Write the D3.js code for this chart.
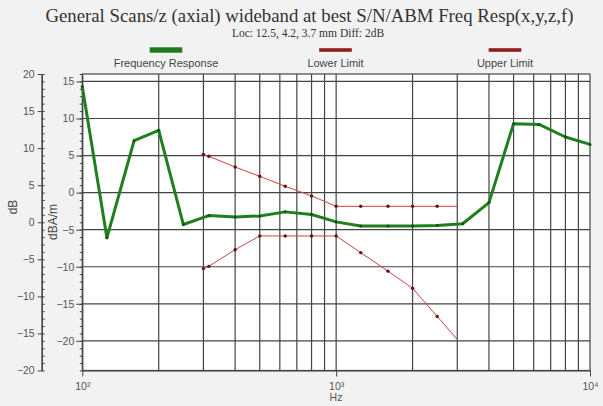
<!DOCTYPE html>
<html><head><meta charset="utf-8">
<script src="https://cdn.jsdelivr.net/npm/d3@7/dist/d3.min.js"></script>
<style>
html,body{margin:0;padding:0;background:#f2f2f2;}
svg{display:block;}
text{font-family:"Liberation Sans",Arial,sans-serif;}
</style></head>
<body>
<svg id="chart" width="603" height="406"></svg>
<script>
// ---- data ----
const freqs = [100,125,160,200,250,315,400,500,630,800,1000,1250,1600,2000,2500,3150,4000,5000,6300,8000,10000];
const response = [14.3,-6.1,7.0,8.4,-4.3,-3.1,-3.3,-3.15,-2.6,-2.95,-3.95,-4.5,-4.5,-4.5,-4.45,-4.2,-1.35,9.3,9.2,7.5,6.5];
const limitFreqs = [300,315,400,500,630,800,1000,1250,1600,2000,2500,3000];
const upperLimit = [5.15,4.9,3.45,2.2,0.85,-0.45,-1.85,-1.85,-1.85,-1.85,-1.85,-1.85];
const lowerLimit = [-10.25,-9.95,-7.7,-5.85,-5.85,-5.85,-5.85,-8.1,-10.6,-12.9,-16.7,-19.8];
const seriesNames = ["Frequency Response","Lower Limit","Upper Limit"];
const outerTicks = [20,15,10,5,0,-5,-10,-15,-20];
const innerTicks = [15,10,5,0,-5,-10,-15,-20];
const xTickVals = [100,1000,10000];
const xTickLabels = ["10\u00B2","10\u00B3","10\u2074"];
const title = "General Scans/z (axial) wideband at best S/N/ABM Freq Resp(x,y,z,f)";
const subtitle = "Loc: 12.5, 4.2, 3.7 mm Diff: 2dB";

// ---- layout ----
const L = 82.3, R = 590, T = 74, B = 370.5;
const svg = d3.select("#chart");
const x = d3.scaleLog().domain([100,10000]).range([L,R]);
const yIn = d3.scaleLinear().domain([-24,16]).range([B,T]);
const yOut = d3.scaleLinear().domain([-20,20]).range([B,T]);

svg.append("rect").attr("width",603).attr("height",406).attr("fill","#f2f2f2");
svg.append("rect").attr("x",L).attr("y",T).attr("width",R-L).attr("height",B-T).attr("fill","#ffffff");

// title
svg.append("text").attr("x",309.5).attr("y",21.5).attr("text-anchor","middle")
  .style("font-family","'Liberation Serif','Times New Roman',serif").style("font-size","18.8px").attr("fill","#333")
  .text(title);
svg.append("text").attr("x",308).attr("y",36.5).attr("text-anchor","middle")
  .style("font-family","'Liberation Serif','Times New Roman',serif").style("font-size","11.5px").attr("fill","#333")
  .text(subtitle);

// legend
const legColors = ["#1f7a1f","#8e1c1c","#8e1c1c"];
const legX = [166,335.5,505];
const legW = [5.4,3.6,3.6];
seriesNames.forEach((n,i)=>{
  svg.append("rect").attr("x",legX[i]-16.3).attr("y",50-legW[i]/2).attr("width",32.6).attr("height",legW[i]).attr("fill",legColors[i]);
  svg.append("text").attr("x",legX[i]).attr("y",67).attr("text-anchor","middle")
    .style("font-size","11px").attr("fill","#444").text(n);
});

// grid
const gridColor = "#444";
const g = svg.append("g");
g.selectAll("line.v").data(x.ticks().filter(d=>d>100 && d<10000)).join("line")
  .attr("x1",d=>x(d)).attr("x2",d=>x(d)).attr("y1",T).attr("y2",B)
  .attr("stroke",gridColor).attr("stroke-width",1.2);
g.selectAll("line.h").data(innerTicks).join("line")
  .attr("x1",L).attr("x2",R).attr("y1",d=>yIn(d)).attr("y2",d=>yIn(d))
  .attr("stroke",gridColor).attr("stroke-width",1.2);
svg.append("rect").attr("x",L).attr("y",T).attr("width",R-L).attr("height",B-T)
  .attr("fill","none").attr("stroke",gridColor).attr("stroke-width",1.2);

// axes
function styleAxis(sel){
  sel.select(".domain").attr("stroke","#444").attr("stroke-width",1.2);
  sel.selectAll(".tick line").attr("stroke","#444");
  sel.selectAll("text").style("font-size","10.5px").attr("fill","#555").style("font-family","'Liberation Sans',Arial,sans-serif");
}
const ax = 41.7;
// outer dB axis
const oMaj = svg.append("g").attr("transform",`translate(${ax},0)`)
  .call(d3.axisLeft(yOut).tickValues(outerTicks).tickSize(4).tickPadding(3).tickSizeOuter(0));
styleAxis(oMaj);
const oMin = svg.append("g").attr("transform",`translate(${ax},0)`)
  .call(d3.axisRight(yOut).tickValues(d3.range(-20,21,1)).tickSize(3).tickFormat("").tickSizeOuter(0));
styleAxis(oMin);
// inner dBA/m axis
const iMin = svg.append("g").attr("transform",`translate(${L},0)`)
  .call(d3.axisLeft(yIn).tickValues(d3.range(-24,17,1)).tickSize(2.5).tickFormat("").tickSizeOuter(0));
styleAxis(iMin);
const iMaj = svg.append("g").attr("transform",`translate(${L},0)`)
  .call(d3.axisLeft(yIn).tickValues(innerTicks).tickSize(6).tickPadding(2).tickSizeOuter(0));
styleAxis(iMaj);
iMaj.select(".domain").remove();
// x axis
const xa = svg.append("g").attr("transform",`translate(0,${B})`)
  .call(d3.axisBottom(x).tickValues(xTickVals).tickSize(6).tickPadding(4)
    .tickFormat((d,i)=>xTickLabels[i]).tickSizeOuter(0));
styleAxis(xa);
xa.selectAll("text").attr("dy","0.9em");

// axis titles
svg.append("text").attr("transform","translate(17,207) rotate(-90)").attr("text-anchor","middle")
  .style("font-size","12px").attr("fill","#444").text("dB");
svg.append("text").attr("transform","translate(57,222) rotate(-90)").attr("text-anchor","middle")
  .style("font-size","12px").attr("fill","#444").text("dBA/m");
svg.append("text").attr("x",336).attr("y",401).attr("text-anchor","middle")
  .style("font-size","10.5px").attr("fill","#555").text("Hz");

// series
const lineIn = d3.line().x(d=>x(d[0])).y(d=>yIn(d[1]));
const resp = freqs.map((f,i)=>[f,response[i]]);
const up = limitFreqs.map((f,i)=>[f,upperLimit[i]]);
const lo = limitFreqs.map((f,i)=>[f,lowerLimit[i]]);
[up,lo].forEach(s=>{
  svg.append("path").datum(s).attr("d",lineIn).attr("fill","none").attr("stroke","#cc4444").attr("stroke-width",1);
  svg.selectAll(null).data(s.slice(0,-1)).join("circle")
    .attr("cx",d=>x(d[0])).attr("cy",d=>yIn(d[1])).attr("r",1.7).attr("fill","#6a1010");
});
svg.append("path").datum(resp).attr("d",lineIn).attr("fill","none").attr("stroke","#1f7f1f")
  .attr("stroke-width",3).attr("stroke-linejoin","round");
svg.selectAll(null).data(resp).join("circle")
  .attr("cx",d=>x(d[0])).attr("cy",d=>yIn(d[1])).attr("r",1.5).attr("fill","#145214");
</script>
</body></html>
